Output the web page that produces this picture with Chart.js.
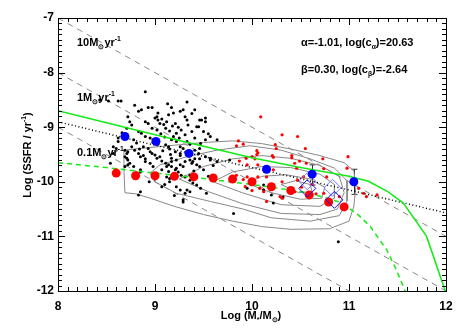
<!DOCTYPE html>
<html>
<head>
<meta charset="utf-8">
<script src="https://cdn.jsdelivr.net/npm/chart.js@4"></script>
<style>
  html, body { margin: 0; padding: 0; background: #fff; }
</style>
</head>
<body>
<canvas id="ssfrChart" width="463" height="331"></canvas>
<script>
// Axis ticks
const xTicks = [8, 9, 10, 11, 12];
const yTicks = [-12, -11, -10, -9, -8, -7];

// Lines of constant SFR (10, 1, 0.1 Msun/yr)
const sfr10 = [[8, -7], [12, -11]];
const sfr1 = [[8, -8], [12, -12]];
const sfr01 = [[8, -9], [11, -12]];

// Model curves
const greenSolid = [[8, -8.70], [8.5, -8.92], [9, -9.14], [9.5, -9.35], [10, -9.56], [10.5, -9.74],
  [11, -9.90], [11.2, -9.99], [11.4, -10.18], [11.56, -10.39], [11.8, -11.0], [12, -12.04]];
const greenDashed = [[8, -9.65], [8.5, -9.74], [9, -9.84], [9.5, -9.94], [10, -10.05], [10.4, -10.15],
  [10.6, -10.21], [10.9, -10.37], [11.08, -10.58], [11.22, -10.82], [11.39, -11.25], [11.49, -11.62], [11.59, -12.05]];
const dottedFit = [[8, -8.90], [9, -9.33], [10, -9.74], [11, -10.15], [12, -10.57]];

// Density contours (outer to inner)
const contour1 = [[8.68, -9.42], [8.9, -9.38], [9.2, -9.33], [9.5, -9.28], [9.8, -9.25], [10.1, -9.30], [10.4, -9.40],
  [10.7, -9.52], [10.95, -9.65], [11.05, -9.80], [11.07, -10.1], [11.05, -10.45], [11.0, -10.72], [10.8, -10.86],
  [10.4, -10.87], [10.1, -10.82], [9.8, -10.72], [9.5, -10.60], [9.2, -10.45], [8.95, -10.30], [8.8, -10.22],
  [8.69, -10.20], [8.68, -9.8], [8.68, -9.42]];
const contour2 = [[8.95, -9.84], [9.05, -9.69], [9.33, -9.54], [9.64, -9.42], [9.98, -9.34], [10.3, -9.42],
  [10.6, -9.58], [10.85, -9.75], [10.98, -9.98], [10.98, -10.35], [10.9, -10.62], [10.6, -10.72], [10.2, -10.66],
  [9.91, -10.50], [9.57, -10.36], [9.22, -10.21], [9.0, -10.0], [8.95, -9.84]];
const contour3 = [[9.25, -9.95], [9.5, -9.72], [9.8, -9.58], [10.1, -9.52], [10.4, -9.57], [10.7, -9.70],
  [10.9, -9.90], [10.95, -10.2], [10.88, -10.5], [10.7, -10.60], [10.3, -10.58], [9.9, -10.40], [9.55, -10.18], [9.25, -9.95]];
const contour4 = [[9.6, -10.0], [9.8, -9.82], [10.1, -9.72], [10.4, -9.74], [10.7, -9.86], [10.85, -10.05],
  [10.85, -10.3], [10.7, -10.45], [10.3, -10.42], [9.9, -10.2], [9.6, -10.0]];
const contour5 = [[9.95, -10.03], [10.1, -9.9], [10.35, -9.87], [10.6, -9.95], [10.75, -10.1], [10.72, -10.3],
  [10.5, -10.32], [10.2, -10.2], [9.95, -10.03]];
const contour6 = [[10.3, -10.05], [10.45, -9.98], [10.6, -10.05], [10.62, -10.18], [10.48, -10.2], [10.3, -10.05]];

// Individual galaxies
const lowMassGalaxies = [[8.90, -8.35], [8.43, -8.50], [8.52, -8.52], [8.62, -8.52], [8.65, -8.52], [8.79, -8.60],
  [8.93, -8.64], [8.97, -8.64], [9.33, -8.54], [9.17, -8.64], [9.26, -8.71], [9.29, -8.68], [8.83, -8.71],
  [9.03, -8.74], [9.02, -8.81], [9.14, -8.77], [9.19, -8.74], [8.72, -8.81], [9.00, -8.83], [9.03, -8.87],
  [9.31, -8.81], [9.33, -8.87], [9.48, -8.87], [8.90, -8.90], [8.93, -8.93], [9.05, -8.93], [9.09, -8.95],
  [9.21, -8.93], [8.76, -8.96], [8.71, -9.02], [9.34, -8.96], [9.45, -8.99], [8.97, -9.02], [9.02, -9.05],
  [9.11, -9.02], [9.15, -9.07], [9.27, -9.05], [9.38, -9.08], [8.83, -9.08], [8.86, -9.11], [9.50, -9.08],
  [9.22, -9.11], [9.31, -9.14], [8.90, -9.17], [8.95, -9.20], [9.41, -9.20], [9.52, -9.23], [9.17, -9.23],
  [9.22, -9.26], [8.78, -9.23], [8.81, -9.29], [9.33, -9.26], [8.62, -9.26], [9.11, -9.32], [9.14, -9.36],
  [9.26, -9.36], [9.29, -9.39], [8.88, -9.36], [8.93, -9.39], [8.69, -9.42], [8.72, -9.45], [9.41, -9.42],
  [9.46, -9.39], [9.21, -9.45], [9.26, -9.48], [8.83, -9.48], [8.88, -9.52], [9.00, -9.51], [9.05, -9.54],
  [8.69, -9.54], [8.72, -9.60], [9.17, -9.57], [9.22, -9.60], [8.90, -9.63], [8.95, -9.66], [9.11, -9.66],
  [9.14, -9.69], [8.72, -9.69], [8.78, -9.72], [9.31, -9.63], [9.38, -9.66], [9.45, -9.48], [9.52, -9.54],
  [8.85, -10.18], [8.83, -10.24], [9.15, -10.00], [9.22, -10.09], [9.26, -10.15], [9.29, -10.33], [9.12, -9.91],
  [9.15, -9.94], [9.33, -10.15], [9.36, -10.18], [9.43, -10.06], [9.81, -10.58], [9.26, -9.69], [9.29, -9.72],
  [9.17, -9.72], [9.21, -9.78], [9.36, -9.60], [9.39, -9.63], [9.02, -9.57], [8.60, -9.39], [8.57, -9.48],
  [9.27, -9.88], [9.31, -9.91], [9.46, -9.72], [9.50, -9.78], [9.57, -9.57], [9.64, -9.63], [9.36, -9.97],
  [9.39, -10.02], [9.07, -10.09], [9.53, -10.21], [9.77, -9.60], [9.14, -9.81], [8.98, -9.72], [8.54, -9.66],
  [9.29, -10.37], [9.31, -10.21], [10.12, -10.06], [10.20, -10.24], [9.95, -10.12], [10.32, -10.28],
  [10.89, -11.10], [10.12, -10.15], [10.22, -10.39], [8.62, -9.20], [8.57, -9.36], [8.71, -9.57], [8.69, -9.72],
  [9.57, -9.17], [9.64, -9.23], [9.46, -8.87], [9.43, -8.99], [9.41, -8.68], [9.52, -8.83],
  [9.07, -8.85], [9.12, -8.90], [9.18, -8.98], [9.24, -9.00], [9.06, -9.12], [9.10, -9.18], [9.19, -9.17],
  [9.25, -9.20], [8.98, -9.28], [9.03, -9.31], [9.36, -9.31], [9.47, -9.30], [8.84, -9.40], [9.08, -9.43],
  [9.16, -9.50], [9.35, -9.52], [8.95, -9.45], [8.76, -9.36], [9.41, -9.58], [9.07, -9.62], [8.85, -9.78],
  [8.99, -9.86], [9.24, -9.82], [9.40, -9.80], [9.55, -9.90], [9.10, -10.05], [8.94, -10.00], [9.20, -10.25],
  [9.47, -10.12], [9.60, -9.70], [8.66, -9.10], [8.74, -8.90], [9.13, -8.57], [9.38, -8.75], [8.86, -8.68],
  [9.55, -9.12], [9.00, -9.95], [9.36, -9.88],
  [8.71, -9.48], [8.79, -9.42], [8.85, -9.54], [8.74, -9.66], [8.90, -9.58], [8.97, -9.48], [9.12, -9.72],
  [9.17, -9.63], [9.22, -9.75], [9.07, -9.78], [8.85, -9.82], [8.98, -9.23], [9.15, -9.40], [9.26, -9.52],
  [9.46, -9.58], [9.43, -9.69], [9.57, -9.60], [9.52, -8.90]];
const highMassGalaxies = [[10.09, -8.81], [10.31, -9.14], [10.47, -9.17], [10.55, -9.39], [10.99, -9.54],
  [10.73, -9.58], [9.86, -9.25], [9.91, -9.31], [9.84, -9.34], [10.05, -9.43], [10.24, -9.32], [10.25, -9.39],
  [10.21, -9.52], [10.41, -9.52], [10.41, -9.56], [10.00, -9.54], [10.05, -9.50], [10.03, -9.58], [10.49, -9.62],
  [10.56, -9.66], [9.94, -9.57], [9.87, -9.62], [10.06, -9.69], [10.44, -9.66], [10.98, -9.75], [10.22, -9.78],
  [9.84, -9.88], [10.06, -9.91], [10.15, -9.91], [10.13, -9.81], [10.46, -9.75], [10.53, -9.91], [10.74, -9.76],
  [9.95, -9.69], [10.00, -10.16], [10.08, -10.12], [10.31, -10.30], [10.44, -10.18], [10.47, -9.97],
  [10.77, -9.91], [11.10, -10.12], [11.15, -10.21], [10.74, -10.21], [10.51, -10.10], [11.18, -10.27],
  [11.29, -10.24], [10.15, -10.36], [9.95, -9.91], [10.31, -10.00], [9.93, -10.09], [10.12, -10.18],
  [10.29, -10.27], [9.91, -9.96], [10.06, -9.47], [10.22, -9.55], [10.62, -10.05], [10.66, -10.22], [10.90, -10.27]];

// Binned medians
const redMassX = [8.60, 8.80, 9.00, 9.20, 9.40, 9.60, 9.80, 10.00, 10.20, 10.40, 10.59, 10.79, 10.95];
const redMassY = [-9.84, -9.89, -9.89, -9.90, -9.91, -9.93, -9.95, -10.00, -10.09, -10.16, -10.24, -10.37, -10.46];
const blueMassX = [8.69, 9.01, 9.35, 10.15, 10.62, 11.05];
const blueMassY = [-9.17, -9.26, -9.48, -9.77, -9.86, -10.00];
const stackDark = [[10.57, -10.12], [10.85, -10.33]];
const stackLight = [[10.57, -9.99], [10.83, -10.11]];

// Error bars on the blue points
const errX = [10.62, 11.05];
const errLo = [-10.06, -10.23];
const errHi = [-9.69, -9.77];

const toXY = arr => arr.map(([x, y]) => ({ x, y }));
const zipXY = (xs, ys) => xs.map((x, i) => ({ x, y: ys[i] }));

const FONT = '"Liberation Sans", Arial, Helvetica, sans-serif';

// texte avec indices / exposants
function drawRich(ctx, x, y, parts, size, align) {
  const fontOf = m => 'bold ' + (m ? size * 0.62 : size) + 'px ' + FONT;
  let total = 0;
  parts.forEach(([t, m]) => { ctx.font = fontOf(m); total += ctx.measureText(t).width; });
  let cx = align === 'center' ? x - total / 2 : (align === 'right' ? x - total : x);
  ctx.textAlign = 'left';
  ctx.textBaseline = 'alphabetic';
  parts.forEach(([t, m]) => {
    ctx.font = fontOf(m);
    const dy = m === 1 ? -size * 0.42 : (m === -1 ? size * 0.3 : 0);
    ctx.fillText(t, cx, y + dy);
    cx += ctx.measureText(t).width;
  });
}

const lineSet = (data, color, width, dash, order) => ({
  data: toXY(data), showLine: true, borderColor: color, borderWidth: width,
  borderDash: dash, pointRadius: 0, fill: false, tension: 0, order: order
});

// cadre + graduations sur les 4 côtés
const framePlugin = {
  id: 'frame',
  beforeDatasetsDraw(chart) {
    const ctx = chart.ctx, xs = chart.scales.x, ys = chart.scales.y;
    ctx.save();
    ctx.strokeStyle = '#333';
    ctx.lineWidth = 1;
    errX.forEach((v, i) => {
      const px = Math.round(xs.getPixelForValue(v)) + 0.5;
      const p1 = ys.getPixelForValue(errLo[i]), p2 = ys.getPixelForValue(errHi[i]);
      ctx.beginPath();
      ctx.moveTo(px, p1); ctx.lineTo(px, p2);
      ctx.moveTo(px - 3, p1); ctx.lineTo(px + 3, p1);
      ctx.moveTo(px - 3, p2); ctx.lineTo(px + 3, p2);
      ctx.stroke();
    });
    ctx.restore();
  },
  afterDraw(chart) {
    const ctx = chart.ctx, a = chart.chartArea;
    const xs = chart.scales.x, ys = chart.scales.y;
    ctx.save();
    ctx.strokeStyle = '#000';
    ctx.lineWidth = 1;
    ctx.strokeRect(Math.round(a.left) + 0.5, Math.round(a.top) + 0.5, Math.round(a.right - a.left), Math.round(a.bottom - a.top));
    ctx.beginPath();
    for (let i = 0; i <= 40; i++) {
      const v = xTicks[0] + i * 0.1;
      const len = i % 10 === 0 ? 7 : 4;
      const px = Math.round(xs.getPixelForValue(v)) + 0.5;
      ctx.moveTo(px, a.bottom); ctx.lineTo(px, a.bottom - len);
      ctx.moveTo(px, a.top); ctx.lineTo(px, a.top + len);
    }
    for (let i = 0; i <= 50; i++) {
      const v = yTicks[0] + i * 0.1;
      const len = i % 10 === 0 ? 7 : 4;
      const py = Math.round(ys.getPixelForValue(v)) + 0.5;
      ctx.moveTo(a.left, py); ctx.lineTo(a.left + len, py);
      ctx.moveTo(a.right, py); ctx.lineTo(a.right - len, py);
    }
    ctx.stroke();

    ctx.fillStyle = '#000';
    // titres des axes
    drawRich(ctx, 251, 319, [['Log (M', 0], ['*', -1], ['/M', 0], ['\u2299', -1], [')', 0]], 11, 'center');
    ctx.save();
    ctx.translate(31, 155);
    ctx.rotate(-Math.PI / 2);
    drawRich(ctx, 0, 0, [['Log (SSFR / yr', 0], ['-1', 1], [')', 0]], 11, 'center');
    ctx.restore();

    // étiquettes des lignes de SFR constant
    drawRich(ctx, 77, 46, [['10M', 0], ['\u2299', -1], ['yr', 0], ['-1', 1]], 11, 'left');
    drawRich(ctx, 77, 101, [['1M', 0], ['\u2299', -1], ['yr', 0], ['-1', 1]], 11, 'left');
    drawRich(ctx, 77, 156, [['0.1M', 0], ['\u2299', -1], ['yr', 0], ['-1', 1]], 11, 'left');

    // paramètres de l'ajustement
    drawRich(ctx, 301, 46, [['\u03b1=-1.01, log(c', 0], ['\u03b1', -1], [')=20.63', 0]], 11, 'left');
    drawRich(ctx, 301, 73, [['\u03b2=0.30, log(c', 0], ['\u03b2', -1], [')=-2.64', 0]], 11, 'left');
    ctx.restore();
  }
};

new Chart(document.getElementById('ssfrChart'), {
  type: 'scatter',
  data: {
    datasets: [
      { data: zipXY(blueMassX, blueMassY), backgroundColor: 'rgb(0,0,255)', borderWidth: 0, pointRadius: 4.5, order: 0 },
      { data: toXY(stackDark), pointStyle: 'rectRot', backgroundColor: 'rgba(0,0,0,0)', borderColor: 'rgb(20,20,230)',
        borderWidth: 1, pointRadius: 8.5, order: 1 },
      { data: toXY(stackLight), pointStyle: 'rectRot', backgroundColor: 'rgba(0,0,0,0)', borderColor: 'rgb(120,120,255)',
        borderWidth: 1, pointRadius: 8.5, order: 1 },
      { data: zipXY(redMassX, redMassY), backgroundColor: 'rgb(255,0,0)', borderWidth: 0, pointRadius: 4.5, order: 2 },
      lineSet(greenSolid, 'rgb(20,235,20)', 1.5, [], 3),
      lineSet(greenDashed, 'rgb(20,235,20)', 1.5, [5, 4], 3),
      lineSet(dottedFit, '#000', 1.5, [1, 2.5], 3),
      { data: toXY(highMassGalaxies), backgroundColor: 'rgb(255,0,0)', borderWidth: 0, pointRadius: 1.6, order: 4 },
      { data: toXY(lowMassGalaxies), backgroundColor: '#000', borderWidth: 0, pointRadius: 1.5, order: 4 },
      lineSet(contour1, '#888', 1, [], 5),
      lineSet(contour2, '#888', 1, [], 5),
      lineSet(contour3, '#888', 1, [], 5),
      lineSet(contour4, '#888', 1, [], 5),
      lineSet(contour5, '#888', 1, [], 5),
      lineSet(contour6, '#888', 1, [], 5),
      lineSet(sfr10, '#888', 1, [6, 5], 6),
      lineSet(sfr1, '#888', 1, [6, 5], 6),
      lineSet(sfr01, '#888', 1, [6, 5], 6)
    ]
  },
  options: {
    responsive: false,
    animation: false,
    devicePixelRatio: 1,
    layout: { padding: { top: 18, right: 17, left: 0, bottom: 0 } },
    plugins: { legend: { display: false }, tooltip: { enabled: false } },
    scales: {
      x: {
        type: 'linear', min: 8, max: 12,
        afterBuildTicks: s => { s.ticks = xTicks.map(v => ({ value: v })); },
        afterFit: s => { s.height = 40; },
        grid: { display: false, drawTicks: false },
        border: { display: false },
        ticks: { color: '#000', padding: 8, font: { family: FONT, size: 12, weight: 'bold' } }
      },
      y: {
        type: 'linear', min: -12, max: -7,
        afterBuildTicks: s => { s.ticks = yTicks.map(v => ({ value: v })); },
        afterFit: s => { s.width = 58; },
        grid: { display: false, drawTicks: false },
        border: { display: false },
        ticks: { color: '#000', padding: 4, font: { family: FONT, size: 12, weight: 'bold' } }
      }
    }
  },
  plugins: [framePlugin]
});
</script>
</body>
</html>
